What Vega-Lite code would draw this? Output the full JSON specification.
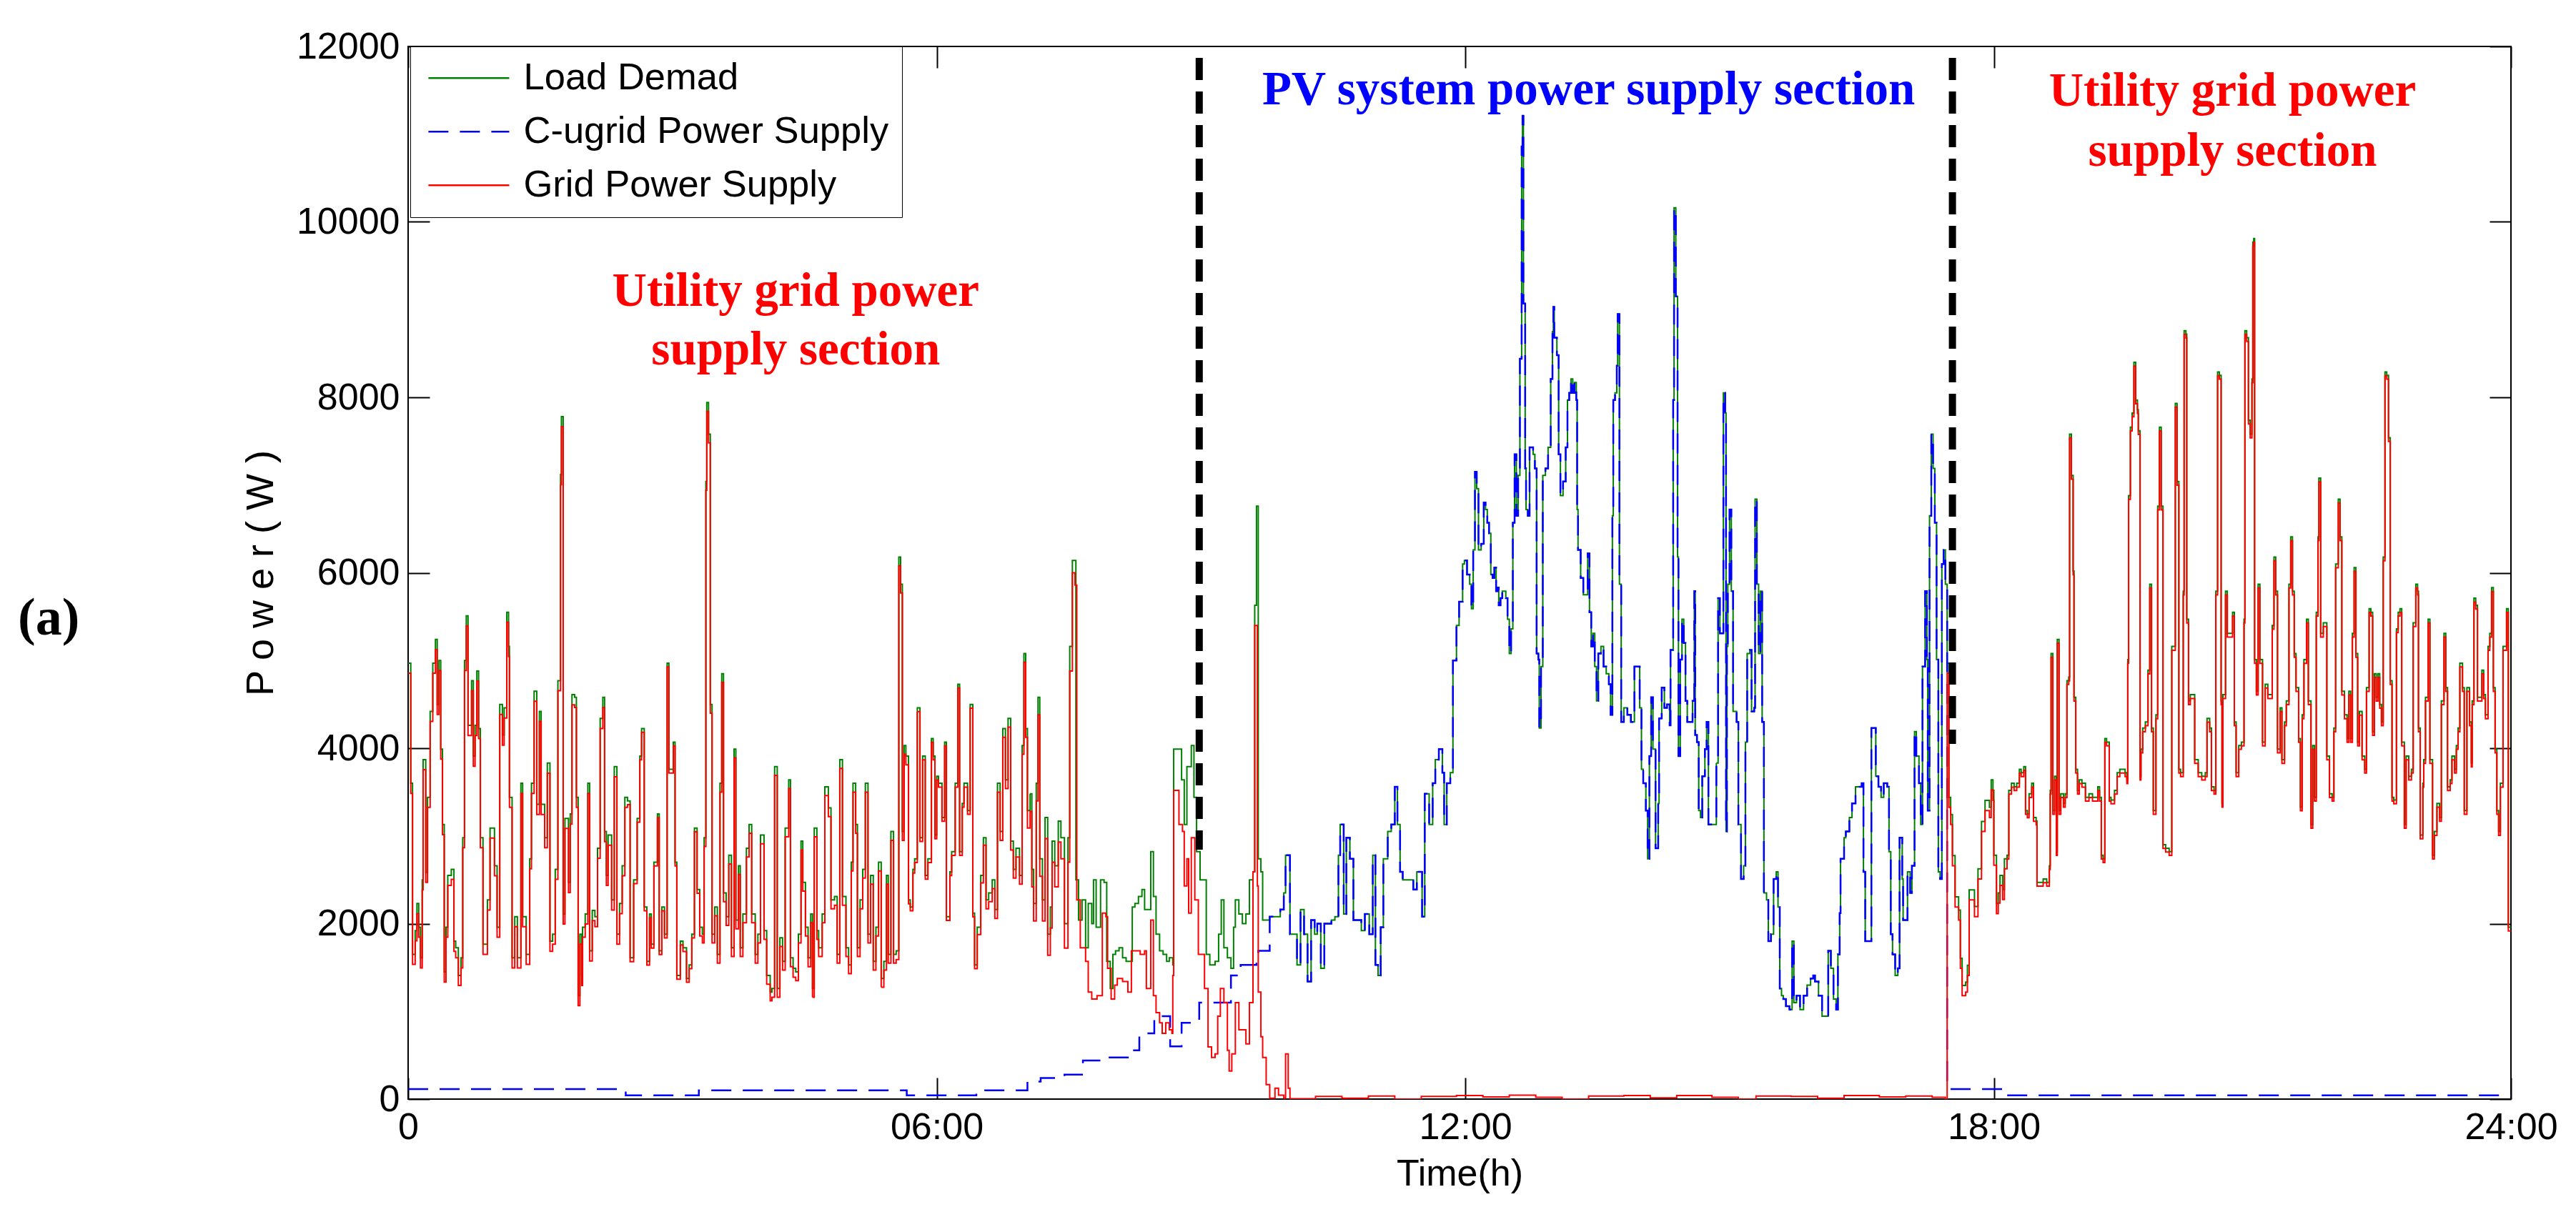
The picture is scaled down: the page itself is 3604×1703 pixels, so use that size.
{
"$schema": "https://vega.github.io/schema/vega-lite/v6.json",
"width": 2942, "height": 1473,
"autosize": {"type": "none"},
"padding": {"left": 571, "top": 65, "right": 91, "bottom": 165},
"background": "white",
"config": {"view": {"stroke": "black", "strokeWidth": 2}, "font": "Liberation Sans"},
"data": {"values": [
{"t":0,"C":115},{"t":2.47,"C":43},{"t":3.3,"C":100},{"t":5.66,"C":43},{"t":6.45,"C":85},{"t":6.55,"C":100},{"t":7.03,"C":200},{"t":7.18,"C":240},{"t":7.45,"C":280},{"t":7.66,"C":440},{"t":7.95,"C":475},{"t":8.2,"C":555},{"t":8.3,"C":750},{"t":8.47,"C":945},{"t":8.65,"C":600},{"t":8.78,"C":870},{"t":8.98,"C":1100},{"t":9.34,"C":1410},{"t":9.45,"C":1530},{"t":9.63,"C":1610},{"t":9.65,"C":1690},{"t":17.47,"C":200},{"t":17.49,"C":115},{"t":18.13,"C":43},{"t":23.87,"C":43},
{"t":0,"L":4970,"G":4855},{"t":0.03,"L":3600,"G":3485},{"t":0.05,"L":1650,"G":1535},{"t":0.08,"L":1920,"G":1805},{"t":0.1,"L":2230,"G":2115},{"t":0.12,"L":1960,"G":1845},{"t":0.14,"L":1610,"G":1495},{"t":0.16,"L":2500,"G":2385},{"t":0.17,"L":3870,"G":3755},{"t":0.2,"L":2585,"G":2470},{"t":0.22,"L":3440,"G":3325},{"t":0.25,"L":4420,"G":4305},{"t":0.28,"L":4970,"G":4855},{"t":0.31,"L":5240,"G":5125},{"t":0.33,"L":4500,"G":4385},{"t":0.35,"L":5000,"G":4885},{"t":0.37,"L":3990,"G":3875},{"t":0.39,"L":3130,"G":3015},{"t":0.41,"L":1450,"G":1335},{"t":0.43,"L":1960,"G":1845},{"t":0.45,"L":2550,"G":2435},{"t":0.49,"L":2620,"G":2505},{"t":0.52,"L":1800,"G":1685},{"t":0.54,"L":1725,"G":1610},{"t":0.57,"L":1410,"G":1295},{"t":0.6,"L":1610,"G":1495},{"t":0.62,"L":2980,"G":2865},{"t":0.64,"L":5000,"G":4885},{"t":0.66,"L":5510,"G":5395},{"t":0.68,"L":4260,"G":4145},{"t":0.72,"L":4770,"G":4655},{"t":0.74,"L":3910,"G":3795},{"t":0.76,"L":4260,"G":4145},{"t":0.78,"L":4880,"G":4765},{"t":0.8,"L":4225,"G":4110},{"t":0.82,"L":2980,"G":2865},{"t":0.85,"L":1765,"G":1650},{"t":0.9,"L":2270,"G":2155},{"t":0.93,"L":3090,"G":2975},{"t":0.98,"L":2660,"G":2545},{"t":1.01,"L":1960,"G":1845},{"t":1.04,"L":4500,"G":4385},{"t":1.07,"L":4150,"G":4035},{"t":1.09,"L":4460,"G":4345},{"t":1.12,"L":5550,"G":5435},{"t":1.14,"L":5160,"G":5045},{"t":1.15,"L":3440,"G":3325},{"t":1.18,"L":1610,"G":1495},{"t":1.21,"L":2080,"G":1965},{"t":1.24,"L":1610,"G":1495},{"t":1.28,"L":3600,"G":3485},{"t":1.3,"L":2080,"G":1965},{"t":1.34,"L":1650,"G":1535},{"t":1.38,"L":2740,"G":2625},{"t":1.4,"L":3600,"G":3485},{"t":1.43,"L":4650,"G":4535},{"t":1.46,"L":3360,"G":3245},{"t":1.49,"L":4420,"G":4305},{"t":1.51,"L":3360,"G":3245},{"t":1.55,"L":2980,"G":2865},{"t":1.58,"L":3830,"G":3715},{"t":1.61,"L":1800,"G":1685},{"t":1.64,"L":1880,"G":1765},{"t":1.67,"L":2620,"G":2505},{"t":1.7,"L":4770,"G":4655},{"t":1.73,"L":7120,"G":7005},{"t":1.74,"L":7780,"G":7665},{"t":1.76,"L":2110,"G":1995},{"t":1.78,"L":3200,"G":3085},{"t":1.82,"L":2470,"G":2355},{"t":1.84,"L":3250,"G":3135},{"t":1.86,"L":4610,"G":4495},{"t":1.89,"L":4580,"G":4465},{"t":1.91,"L":3440,"G":3325},{"t":1.93,"L":1180,"G":1065},{"t":1.95,"L":1880,"G":1765},{"t":1.97,"L":1410,"G":1295},{"t":1.98,"L":1960,"G":1845},{"t":2.01,"L":2110,"G":1995},{"t":2.04,"L":3600,"G":3485},{"t":2.06,"L":1690,"G":1575},{"t":2.09,"L":2150,"G":2035},{"t":2.12,"L":2080,"G":1965},{"t":2.15,"L":2860,"G":2745},{"t":2.18,"L":4340,"G":4225},{"t":2.21,"L":4580,"G":4465},{"t":2.23,"L":3050,"G":2935},{"t":2.25,"L":2550,"G":2435},{"t":2.27,"L":3010,"G":2895},{"t":2.31,"L":2270,"G":2155},{"t":2.34,"L":3790,"G":3675},{"t":2.37,"L":1880,"G":1765},{"t":2.4,"L":2230,"G":2115},{"t":2.43,"L":2660,"G":2545},{"t":2.46,"L":3440,"G":3325},
{"t":2.49,"L":3400,"G":3357},{"t":2.52,"L":1610,"G":1567},{"t":2.56,"L":2500,"G":2457},{"t":2.6,"L":3200,"G":3157},{"t":2.63,"L":3910,"G":3867},{"t":2.65,"L":4225,"G":4182},{"t":2.68,"L":2190,"G":2147},{"t":2.71,"L":1570,"G":1527},{"t":2.74,"L":2110,"G":2067},{"t":2.76,"L":1765,"G":1722},{"t":2.79,"L":2700,"G":2657},{"t":2.83,"L":3250,"G":3207},{"t":2.85,"L":1690,"G":1647},{"t":2.88,"L":2190,"G":2147},{"t":2.91,"L":1880,"G":1837},{"t":2.94,"L":4970,"G":4927},{"t":2.96,"L":3760,"G":3717},{"t":3.01,"L":4070,"G":4027},{"t":3.03,"L":2700,"G":2657},{"t":3.05,"L":1410,"G":1367},{"t":3.09,"L":1800,"G":1757},{"t":3.12,"L":1725,"G":1682},{"t":3.16,"L":1375,"G":1332},{"t":3.19,"L":1530,"G":1487},{"t":3.22,"L":1880,"G":1837},{"t":3.25,"L":3090,"G":3047},{"t":3.28,"L":2390,"G":2347},
{"t":3.31,"L":1960,"G":1860},{"t":3.34,"L":1880,"G":1780},{"t":3.36,"L":2980,"G":2880},{"t":3.38,"L":7040,"G":6940},{"t":3.39,"L":7940,"G":7840},{"t":3.41,"L":7580,"G":7480},{"t":3.43,"L":4500,"G":4400},{"t":3.45,"L":1880,"G":1780},{"t":3.48,"L":2190,"G":2090},{"t":3.51,"L":1650,"G":1550},{"t":3.54,"L":3600,"G":3500},{"t":3.56,"L":4850,"G":4750},{"t":3.58,"L":2350,"G":2250},{"t":3.61,"L":2080,"G":1980},{"t":3.64,"L":2780,"G":2680},{"t":3.67,"L":1725,"G":1625},{"t":3.7,"L":3990,"G":3890},{"t":3.72,"L":2040,"G":1940},{"t":3.75,"L":2660,"G":2560},{"t":3.77,"L":1725,"G":1625},{"t":3.8,"L":2110,"G":2010},{"t":3.84,"L":2860,"G":2760},{"t":3.87,"L":3130,"G":3030},{"t":3.9,"L":2110,"G":2010},{"t":3.94,"L":1650,"G":1550},{"t":3.97,"L":1880,"G":1780},{"t":4.0,"L":3010,"G":2910},{"t":4.04,"L":1920,"G":1820},{"t":4.07,"L":1410,"G":1310},{"t":4.11,"L":1220,"G":1120},{"t":4.13,"L":1260,"G":1160},{"t":4.16,"L":3790,"G":3690},{"t":4.19,"L":1260,"G":1160},{"t":4.22,"L":1840,"G":1740},{"t":4.25,"L":1570,"G":1470},{"t":4.28,"L":3090,"G":2990},{"t":4.32,"L":3640,"G":3540},{"t":4.34,"L":1610,"G":1510},{"t":4.37,"L":1490,"G":1390},{"t":4.4,"L":1450,"G":1350},{"t":4.43,"L":1880,"G":1780},{"t":4.46,"L":2940,"G":2840},{"t":4.48,"L":2470,"G":2370},{"t":4.51,"L":1960,"G":1860},{"t":4.54,"L":1610,"G":1510},{"t":4.57,"L":2110,"G":2010},{"t":4.59,"L":1260,"G":1160},{"t":4.61,"L":3090,"G":2990},{"t":4.64,"L":1920,"G":1820},{"t":4.66,"L":1725,"G":1625},{"t":4.7,"L":2110,"G":2010},{"t":4.73,"L":3560,"G":3460},{"t":4.77,"L":3320,"G":3220},{"t":4.8,"L":2270,"G":2170},{"t":4.84,"L":2310,"G":2210},{"t":4.87,"L":1650,"G":1550},{"t":4.9,"L":3870,"G":3770},{"t":4.93,"L":2310,"G":2210},{"t":4.97,"L":1725,"G":1625},{"t":5.0,"L":1530,"G":1430},{"t":5.03,"L":2700,"G":2600},{"t":5.05,"L":3600,"G":3500},{"t":5.08,"L":3130,"G":3030},{"t":5.1,"L":1725,"G":1625},{"t":5.13,"L":2270,"G":2170},{"t":5.16,"L":2620,"G":2520},{"t":5.19,"L":3600,"G":3500},{"t":5.22,"L":1880,"G":1780},{"t":5.25,"L":2550,"G":2450},{"t":5.28,"L":1570,"G":1470},{"t":5.31,"L":1960,"G":1860},{"t":5.34,"L":2700,"G":2600},{"t":5.37,"L":1375,"G":1275},{"t":5.4,"L":1570,"G":1470},{"t":5.43,"L":2550,"G":2450},{"t":5.45,"L":1650,"G":1550},{"t":5.48,"L":3050,"G":2950},{"t":5.51,"L":1650,"G":1550},{"t":5.54,"L":1690,"G":1590},{"t":5.57,"L":6180,"G":6080},{"t":5.59,"L":5870,"G":5770},{"t":5.61,"L":3050,"G":2950},{"t":5.63,"L":4030,"G":3930},{"t":5.65,"L":3910,"G":3810},
{"t":5.68,"L":2270,"G":2227},{"t":5.7,"L":2190,"G":2147},{"t":5.73,"L":2620,"G":2577},{"t":5.75,"L":2740,"G":2697},{"t":5.78,"L":4460,"G":4417},{"t":5.81,"L":2980,"G":2937},{"t":5.84,"L":3910,"G":3867},{"t":5.87,"L":2550,"G":2507},{"t":5.9,"L":2740,"G":2697},{"t":5.94,"L":4110,"G":4067},{"t":5.96,"L":3910,"G":3867},{"t":5.98,"L":3010,"G":2967},{"t":6.0,"L":3680,"G":3637},{"t":6.02,"L":3600,"G":3557},{"t":6.06,"L":3210,"G":3167},{"t":6.09,"L":4070,"G":4027},{"t":6.11,"L":2080,"G":2037},{"t":6.15,"L":2590,"G":2547},{"t":6.17,"L":2820,"G":2777},{"t":6.21,"L":3600,"G":3557},{"t":6.24,"L":4730,"G":4687},{"t":6.26,"L":2820,"G":2777},{"t":6.29,"L":3370,"G":3327},{"t":6.31,"L":3600,"G":3557},{"t":6.35,"L":3290,"G":3247},{"t":6.38,"L":4500,"G":4457},{"t":6.41,"L":2120,"G":2077},{"t":6.43,"L":1530,"G":1487},{"t":6.46,"L":1960,"G":1875},{"t":6.5,"L":2550,"G":2465},{"t":6.53,"L":2980,"G":2895},{"t":6.56,"L":2270,"G":2170},{"t":6.59,"L":2350,"G":2250},{"t":6.63,"L":2500,"G":2400},{"t":6.66,"L":2160,"G":2060},{"t":6.69,"L":3600,"G":3500},{"t":6.72,"L":3050,"G":2950},{"t":6.75,"L":4225,"G":4125},{"t":6.78,"L":3640,"G":3540},{"t":6.81,"L":4340,"G":4240},{"t":6.84,"L":2940,"G":2840},{"t":6.87,"L":2620,"G":2520},{"t":6.9,"L":2860,"G":2760},{"t":6.94,"L":2550,"G":2450},{"t":6.97,"L":4030,"G":3930},{"t":6.99,"L":5080,"G":4980},{"t":7.01,"L":4225,"G":4125},{"t":7.03,"L":3290,"G":3090},{"t":7.06,"L":3480,"G":3280},{"t":7.08,"L":2620,"G":2420},{"t":7.1,"L":2230,"G":2030},{"t":7.13,"L":3600,"G":3400},{"t":7.15,"L":4580,"G":4380},{"t":7.17,"L":2740,"G":2540},{"t":7.2,"L":2270,"G":2030},{"t":7.23,"L":3210,"G":2970},{"t":7.26,"L":1880,"G":1640},{"t":7.29,"L":2190,"G":1950},{"t":7.31,"L":2940,"G":2700},{"t":7.34,"L":2660,"G":2420},{"t":7.38,"L":3170,"G":2930},{"t":7.41,"L":2980,"G":2740},{"t":7.45,"L":2000,"G":1720},{"t":7.49,"L":2980,"G":2700},{"t":7.51,"L":5160,"G":4880},{"t":7.54,"L":6140,"G":6000},{"t":7.57,"L":6140,"G":5860},
{"t":7.58,"L":2500},{"t":7.61,"L":2040},{"t":7.65,"L":2270},{"t":7.69,"L":1725},{"t":7.72,"L":2230},{"t":7.76,"L":2000},{"t":7.78,"L":2500},{"t":7.81,"L":1960},{"t":7.86,"L":2500},{"t":7.9,"L":2470},{"t":7.93,"L":1570},{"t":7.97,"L":1260},{"t":8.0,"L":1650},{"t":8.03,"L":1690},{"t":8.07,"L":1725},{"t":8.11,"L":1610},{"t":8.15,"L":1570},{"t":8.19,"L":1570},{"t":8.22,"L":2190},{"t":8.25,"L":2230},{"t":8.29,"L":2310},{"t":8.33,"L":2390},{"t":8.36,"L":2160},{"t":8.43,"L":2820},{"t":8.46,"L":2310},{"t":8.49,"L":1880},{"t":8.53,"L":1690},{"t":8.57,"L":1650},{"t":8.61,"L":1570},{"t":8.64,"L":1610},{"t":8.68,"L":1530},{"t":8.69,"L":3990},{"t":8.78,"L":3640},{"t":8.81,"L":3130},{"t":8.84,"L":3790},{"t":8.89,"L":4030},{"t":8.92,"L":3440},{"t":8.95,"L":2820},{"t":8.99,"L":2500},{"t":9.06,"L":1650},{"t":9.1,"L":1530},{"t":9.16,"L":1570},{"t":9.2,"L":1880},{"t":9.23,"L":2270},{"t":9.26,"L":1725},{"t":9.3,"L":1610},{"t":9.34,"L":1490},{"t":9.37,"L":1960},{"t":9.39,"L":2270},{"t":9.43,"L":2110},{"t":9.47,"L":2000},{"t":9.51,"L":2110},{"t":9.55,"L":2500},{"t":9.59,"L":2590},{"t":9.61,"L":5630},{"t":9.63,"L":6760},{"t":9.65,"L":2740},{"t":9.68,"L":2590},{"t":9.7,"L":2040},
{"t":7.59,"G":2270},{"t":7.63,"G":1725},{"t":7.69,"G":1570},{"t":7.72,"G":1220},{"t":7.76,"G":1140},{"t":7.82,"G":1180},{"t":7.88,"G":2120},{"t":7.92,"G":2080},{"t":7.94,"G":1490},{"t":7.98,"G":1140},{"t":8.02,"G":1300},{"t":8.05,"G":1375},{"t":8.11,"G":1340},{"t":8.17,"G":1220},{"t":8.21,"G":1690},{"t":8.31,"G":1650},{"t":8.36,"G":1690},{"t":8.38,"G":1260},{"t":8.43,"G":2040},{"t":8.46,"G":1180},{"t":8.49,"G":985},{"t":8.53,"G":870},{"t":8.56,"G":750},{"t":8.6,"G":870},{"t":8.64,"G":790},{"t":8.67,"G":750},{"t":8.68,"G":1410},{"t":8.69,"G":3520},{"t":8.75,"G":3130},{"t":8.79,"G":3050},{"t":8.81,"G":2430},{"t":8.84,"G":2740},{"t":8.86,"G":2120},{"t":8.89,"G":2980},{"t":8.93,"G":2270},{"t":8.97,"G":1650},{"t":9.04,"G":1260},{"t":9.08,"G":595},{"t":9.12,"G":475},{"t":9.16,"G":515},{"t":9.19,"G":945},{"t":9.22,"G":1260},{"t":9.26,"G":1100},{"t":9.3,"G":555},{"t":9.32,"G":320},{"t":9.35,"G":515},{"t":9.39,"G":1100},{"t":9.43,"G":790},{"t":9.51,"G":630},{"t":9.55,"G":1100},{"t":9.59,"G":2590},{"t":9.61,"G":5400},{"t":9.64,"G":2430},{"t":9.65,"G":1220},{"t":9.68,"G":710},{"t":9.7,"G":475},{"t":9.74,"G":165},{"t":9.78,"G":10},{"t":9.84,"G":125},{"t":9.88,"G":45},{"t":9.94,"G":10},{"t":9.96,"G":515},{"t":9.99,"G":125},{"t":10.01,"G":5},{"t":10.3,"G":30},{"t":10.6,"G":10},{"t":10.9,"G":35},{"t":11.2,"G":0},{"t":11.5,"G":30},{"t":11.9,"G":40},{"t":12.2,"G":25},{"t":12.5,"G":45},{"t":12.8,"G":20},{"t":13.1,"G":0},{"t":13.4,"G":35},{"t":13.8,"G":40},{"t":14.1,"G":15},{"t":14.4,"G":40},{"t":14.8,"G":20},{"t":15.1,"G":0},{"t":15.3,"G":35},{"t":15.7,"G":30},{"t":16.0,"G":10},{"t":16.3,"G":40},{"t":16.7,"G":25},{"t":17.0,"G":35},{"t":17.3,"G":20},{"t":17.45,"G":0},
{"t":9.78,"L":2080,"C":2080},{"t":9.86,"L":2080,"C":2080},{"t":9.9,"L":2160,"C":2160},{"t":9.94,"L":2350,"C":2350},{"t":9.96,"L":2780,"C":2780},{"t":10.01,"L":1880,"C":1880},{"t":10.09,"L":1530,"C":1530},{"t":10.13,"L":2160,"C":2160},{"t":10.17,"L":1880,"C":1880},{"t":10.21,"L":1340,"C":1340},{"t":10.25,"L":2040,"C":2040},{"t":10.29,"L":1880,"C":1880},{"t":10.32,"L":2000,"C":2000},{"t":10.36,"L":1490,"C":1490},{"t":10.4,"L":2000,"C":2000},{"t":10.48,"L":2040,"C":2040},{"t":10.52,"L":2080,"C":2080},{"t":10.56,"L":2780,"C":2780},{"t":10.58,"L":3130,"C":3130},{"t":10.62,"L":2110,"C":2110},{"t":10.65,"L":2980,"C":2980},{"t":10.69,"L":2740,"C":2740},{"t":10.73,"L":2040,"C":2040},{"t":10.82,"L":1920,"C":1920},{"t":10.86,"L":2110,"C":2110},{"t":10.91,"L":1880,"C":1880},{"t":10.95,"L":2780,"C":2780},{"t":10.98,"L":1530,"C":1530},{"t":11.01,"L":1410,"C":1410},{"t":11.04,"L":1960,"C":1960},{"t":11.07,"L":2740,"C":2740},{"t":11.12,"L":3050,"C":3050},{"t":11.16,"L":3130,"C":3130},{"t":11.2,"L":3560,"C":3560},{"t":11.23,"L":3130,"C":3130},{"t":11.26,"L":2590,"C":2590},{"t":11.29,"L":2500,"C":2500},{"t":11.37,"L":2500,"C":2500},{"t":11.41,"L":2390,"C":2390},{"t":11.45,"L":2590,"C":2590},{"t":11.51,"L":2080,"C":2080},{"t":11.54,"L":3480,"C":3480},{"t":11.59,"L":3130,"C":3130},{"t":11.63,"L":3600,"C":3600},{"t":11.66,"L":3870,"C":3870},{"t":11.7,"L":3990,"C":3990},{"t":11.74,"L":3720,"C":3720},{"t":11.76,"L":3130,"C":3130},{"t":11.79,"L":3600,"C":3600},{"t":11.83,"L":3720,"C":3720},{"t":11.86,"L":5000,"C":5000},{"t":11.9,"L":5400,"C":5400},{"t":11.93,"L":5670,"C":5670},{"t":11.97,"L":6100,"C":6100},{"t":11.99,"L":6140,"C":6140},{"t":12.02,"L":5980,"C":5980},{"t":12.05,"L":5870,"C":5870},{"t":12.07,"L":5590,"C":5590},{"t":12.09,"L":6260,"C":6260},{"t":12.11,"L":7150,"C":7150},{"t":12.13,"L":6960,"C":6960},{"t":12.15,"L":6260,"C":6260},{"t":12.18,"L":6330,"C":6330},{"t":12.21,"L":6800,"C":6800},{"t":12.23,"L":6720,"C":6720},{"t":12.25,"L":6570,"C":6570},{"t":12.27,"L":6450,"C":6450},{"t":12.29,"L":5980,"C":5980},{"t":12.31,"L":5940,"C":5940},{"t":12.33,"L":6060,"C":6060},{"t":12.35,"L":5790,"C":5790},{"t":12.37,"L":5830,"C":5830},{"t":12.38,"L":5630,"C":5630},{"t":12.4,"L":5710,"C":5710},{"t":12.42,"L":5790,"C":5790},{"t":12.46,"L":5710,"C":5710},{"t":12.48,"L":5470,"C":5470},{"t":12.5,"L":5080,"C":5080},{"t":12.52,"L":5360,"C":5360},{"t":12.54,"L":6570,"C":6570},{"t":12.56,"L":7350,"C":7350},{"t":12.58,"L":6650,"C":6650},{"t":12.6,"L":7110,"C":7110},{"t":12.62,"L":8440,"C":8440},{"t":12.64,"L":10860,"C":10860},{"t":12.65,"L":11210,"C":11210},{"t":12.66,"L":9070,"C":9070},{"t":12.68,"L":7190,"C":7190},{"t":12.69,"L":6720,"C":6720},{"t":12.71,"L":6650,"C":6650},{"t":12.73,"L":7430,"C":7430},{"t":12.77,"L":7350,"C":7350},{"t":12.79,"L":7190,"C":7190},{"t":12.81,"L":5080,"C":5080},{"t":12.83,"L":5010,"C":5010},{"t":12.84,"L":4230,"C":4230},{"t":12.86,"L":4930,"C":4930},{"t":12.88,"L":7110,"C":7110},{"t":12.91,"L":7190,"C":7190},{"t":12.94,"L":7430,"C":7430},{"t":12.97,"L":8210,"C":8210},{"t":12.99,"L":8750,"C":8750},{"t":13.0,"L":9030,"C":9030},{"t":13.01,"L":8680,"C":8680},{"t":13.04,"L":8480,"C":8480},{"t":13.06,"L":7350,"C":7350},{"t":13.08,"L":6880,"C":6880},{"t":13.11,"L":7040,"C":7040},{"t":13.14,"L":7430,"C":7430},{"t":13.16,"L":7970,"C":7970},{"t":13.18,"L":8050,"C":8050},{"t":13.2,"L":8210,"C":8210},{"t":13.22,"L":8050,"C":8050},{"t":13.24,"L":8170,"C":8170},{"t":13.26,"L":7970,"C":7970},{"t":13.27,"L":6720,"C":6720},{"t":13.28,"L":6260,"C":6260},{"t":13.31,"L":5940,"C":5940},{"t":13.34,"L":5750,"C":5750},{"t":13.37,"L":5750,"C":5750},{"t":13.39,"L":6220,"C":6220},{"t":13.41,"L":5550,"C":5550},{"t":13.43,"L":5160,"C":5160},{"t":13.45,"L":5310,"C":5310},{"t":13.47,"L":4930,"C":4930},{"t":13.49,"L":4540,"C":4540},{"t":13.51,"L":5080,"C":5080},{"t":13.54,"L":5160,"C":5160},{"t":13.57,"L":4930,"C":4930},{"t":13.6,"L":4850,"C":4850},{"t":13.63,"L":4730,"C":4730},{"t":13.65,"L":4380,"C":4380},{"t":13.67,"L":6650,"C":6650},{"t":13.68,"L":7970,"C":7970},{"t":13.7,"L":8050,"C":8050},{"t":13.72,"L":8360,"C":8360},{"t":13.73,"L":8950,"C":8950},{"t":13.75,"L":5870,"C":5870},{"t":13.77,"L":4300,"C":4300},{"t":13.8,"L":4460,"C":4460},{"t":13.84,"L":4380,"C":4380},{"t":13.88,"L":4300,"C":4300},{"t":13.92,"L":4930,"C":4930},{"t":13.96,"L":4930,"C":4930},{"t":13.98,"L":4460,"C":4460},{"t":14.0,"L":3760,"C":3760},{"t":14.02,"L":3600,"C":3600},{"t":14.05,"L":3290,"C":3290},{"t":14.07,"L":2740,"C":2740},{"t":14.09,"L":3910,"C":3910},{"t":14.11,"L":4580,"C":4580},{"t":14.13,"L":3990,"C":3990},{"t":14.16,"L":2860,"C":2860},{"t":14.19,"L":3370,"C":3370},{"t":14.2,"L":4340,"C":4340},{"t":14.23,"L":4690,"C":4690},{"t":14.26,"L":4460,"C":4460},{"t":14.29,"L":4500,"C":4500},{"t":14.32,"L":4260,"C":4260},{"t":14.33,"L":5120,"C":5120},{"t":14.36,"L":7970,"C":7970},{"t":14.37,"L":10160,"C":10160},{"t":14.39,"L":9150,"C":9150},{"t":14.41,"L":6180,"C":6180},{"t":14.42,"L":3910,"C":3910},{"t":14.44,"L":5010,"C":5010},{"t":14.46,"L":5470,"C":5470},{"t":14.48,"L":5200,"C":5200},{"t":14.5,"L":4540,"C":4540},{"t":14.52,"L":4300,"C":4300},{"t":14.58,"L":4540,"C":4540},{"t":14.6,"L":5790,"C":5790},{"t":14.61,"L":4150,"C":4150},{"t":14.63,"L":4070,"C":4070},{"t":14.65,"L":3290,"C":3290},{"t":14.67,"L":3210,"C":3210},{"t":14.69,"L":3680,"C":3680},{"t":14.72,"L":3990,"C":3990},{"t":14.74,"L":4300,"C":4300},{"t":14.76,"L":3130,"C":3130},{"t":14.83,"L":3130,"C":3130},{"t":14.85,"L":3830,"C":3830},{"t":14.87,"L":5710,"C":5710},{"t":14.89,"L":5310,"C":5310},{"t":14.91,"L":5310,"C":5310},{"t":14.93,"L":8050,"C":8050},{"t":14.95,"L":7820,"C":7820},{"t":14.96,"L":3050,"C":3050},{"t":14.97,"L":5160,"C":5160},{"t":14.98,"L":5870,"C":5870},{"t":15.0,"L":6720,"C":6720},{"t":15.02,"L":5790,"C":5790},{"t":15.04,"L":4420,"C":4420},{"t":15.08,"L":4300,"C":4300},{"t":15.1,"L":3130,"C":3130},{"t":15.13,"L":2510,"C":2510},{"t":15.16,"L":2660,"C":2660},{"t":15.18,"L":4070,"C":4070},{"t":15.2,"L":5080,"C":5080},{"t":15.23,"L":5120,"C":5120},{"t":15.25,"L":4420,"C":4420},{"t":15.28,"L":4460,"C":4460},{"t":15.29,"L":6840,"C":6840},{"t":15.31,"L":5870,"C":5870},{"t":15.33,"L":5080,"C":5080},{"t":15.35,"L":5790,"C":5790},{"t":15.37,"L":4300,"C":4300},{"t":15.39,"L":2350,"C":2350},{"t":15.42,"L":2270,"C":2270},{"t":15.44,"L":1800,"C":1800},{"t":15.47,"L":1880,"C":1880},{"t":15.5,"L":2510,"C":2510},{"t":15.53,"L":2590,"C":2590},{"t":15.55,"L":2190,"C":2190},{"t":15.57,"L":1260,"C":1260},{"t":15.59,"L":1180,"C":1180},{"t":15.61,"L":1140,"C":1140},{"t":15.64,"L":1060,"C":1060},{"t":15.68,"L":1020,"C":1020},{"t":15.71,"L":1800,"C":1800},{"t":15.73,"L":1100,"C":1100},{"t":15.76,"L":1180,"C":1180},{"t":15.8,"L":1020,"C":1020},{"t":15.84,"L":1180,"C":1180},{"t":15.88,"L":1300,"C":1300},{"t":15.92,"L":1375,"C":1375},{"t":15.95,"L":1410,"C":1410},{"t":15.97,"L":1340,"C":1340},{"t":16.01,"L":1180,"C":1180},{"t":16.05,"L":945,"C":945},{"t":16.09,"L":945,"C":945},{"t":16.12,"L":1690,"C":1690},{"t":16.15,"L":1490,"C":1490},{"t":16.18,"L":1140,"C":1140},{"t":16.21,"L":1020,"C":1020},{"t":16.23,"L":1650,"C":1650},{"t":16.25,"L":2120,"C":2120},{"t":16.26,"L":2740,"C":2740},{"t":16.3,"L":2980,"C":2980},{"t":16.32,"L":3050,"C":3050},{"t":16.36,"L":3210,"C":3210},{"t":16.39,"L":3370,"C":3370},{"t":16.43,"L":3560,"C":3560},{"t":16.5,"L":3600,"C":3600},{"t":16.52,"L":2590,"C":2590},{"t":16.54,"L":1800,"C":1800},{"t":16.58,"L":1800,"C":1800},{"t":16.61,"L":4230,"C":4230},{"t":16.65,"L":4230,"C":4230},{"t":16.66,"L":3680,"C":3680},{"t":16.69,"L":3560,"C":3560},{"t":16.72,"L":3440,"C":3440},{"t":16.75,"L":3600,"C":3600},{"t":16.79,"L":3560,"C":3560},{"t":16.81,"L":2820,"C":2820},{"t":16.83,"L":1880,"C":1880},{"t":16.85,"L":1650,"C":1650},{"t":16.88,"L":1410,"C":1410},{"t":16.91,"L":1490,"C":1490},{"t":16.93,"L":2980,"C":2980},{"t":16.96,"L":2510,"C":2510},{"t":16.97,"L":2040,"C":2040},{"t":17.0,"L":2040,"C":2040},{"t":17.02,"L":2590,"C":2590},{"t":17.05,"L":2350,"C":2350},{"t":17.07,"L":2660,"C":2660},{"t":17.1,"L":4190,"C":4190},{"t":17.12,"L":3910,"C":3910},{"t":17.15,"L":3600,"C":3600},{"t":17.17,"L":3130,"C":3130},{"t":17.19,"L":4930,"C":4930},{"t":17.22,"L":5790,"C":5790},{"t":17.24,"L":5010,"C":5010},{"t":17.25,"L":3290,"C":3290},{"t":17.27,"L":6650,"C":6650},{"t":17.29,"L":7580,"C":7580},{"t":17.31,"L":7190,"C":7190},{"t":17.33,"L":6570,"C":6570},{"t":17.35,"L":5010,"C":5010},{"t":17.37,"L":2590,"C":2590},{"t":17.39,"L":2510,"C":2510},{"t":17.41,"L":6100,"C":6100},{"t":17.43,"L":6260,"C":6260},{"t":17.45,"L":5870,"C":5870},
{"t":17.47,"L":4970,"G":4855},{"t":17.49,"L":3440,"G":3325},{"t":17.51,"L":3245,"G":3130},{"t":17.53,"L":2775,"G":2660},{"t":17.56,"L":2305,"G":2190},{"t":17.6,"L":2155,"G":2040},{"t":17.62,"L":1605,"G":1490},{"t":17.64,"L":1295,"G":1180},{"t":17.68,"L":1335,"G":1220},{"t":17.7,"L":1525,"G":1410},{"t":17.72,"L":2385,"G":2270},{"t":17.78,"L":2195,"G":2080},{"t":17.82,"L":2625,"G":2510},{"t":17.86,"L":3165,"G":3050},{"t":17.9,"L":3405,"G":3290},{"t":17.95,"L":3325,"G":3210},{"t":17.97,"L":3640,"G":3525},{"t":17.99,"L":3520,"G":3405},{"t":18.0,"L":2780,"G":2665},{"t":18.03,"L":2230,"G":2115},{"t":18.05,"L":2350,"G":2235},{"t":18.07,"L":2550,"G":2435},{"t":18.1,"L":2390,"G":2275},{"t":18.12,"L":2740,"G":2625},
{"t":18.15,"L":2780,"G":2737},{"t":18.17,"L":3520,"G":3477},{"t":18.2,"L":3600,"G":3557},{"t":18.23,"L":3560,"G":3517},{"t":18.26,"L":3600,"G":3557},{"t":18.29,"L":3760,"G":3717},{"t":18.31,"L":3720,"G":3677},{"t":18.34,"L":3790,"G":3747},{"t":18.36,"L":3290,"G":3247},{"t":18.38,"L":3250,"G":3207},{"t":18.4,"L":3480,"G":3437},{"t":18.43,"L":3600,"G":3557},{"t":18.45,"L":3210,"G":3167},{"t":18.48,"L":3170,"G":3127},{"t":18.49,"L":2470,"G":2427},{"t":18.56,"L":2510,"G":2467},{"t":18.6,"L":2470,"G":2427},{"t":18.63,"L":2660,"G":2617},{"t":18.64,"L":3520,"G":3477},{"t":18.65,"L":5080,"G":5037},{"t":18.67,"L":3290,"G":3247},{"t":18.69,"L":3680,"G":3637},{"t":18.71,"L":2820,"G":2777},{"t":18.72,"L":5240,"G":5197},{"t":18.74,"L":3290,"G":3247},{"t":18.76,"L":3480,"G":3437},{"t":18.79,"L":3370,"G":3327},{"t":18.81,"L":3480,"G":3437},{"t":18.83,"L":4770,"G":4727},{"t":18.85,"L":4810,"G":4767},{"t":18.86,"L":7580,"G":7537},{"t":18.88,"L":7110,"G":7067},{"t":18.9,"L":6020,"G":5977},{"t":18.91,"L":4580,"G":4537},{"t":18.93,"L":3760,"G":3717},{"t":18.95,"L":3520,"G":3477},{"t":18.97,"L":3640,"G":3597},{"t":19.0,"L":3600,"G":3557},{"t":19.04,"L":3440,"G":3397},{"t":19.08,"L":3480,"G":3437},{"t":19.12,"L":3440,"G":3397},{"t":19.18,"L":3560,"G":3517},{"t":19.2,"L":3440,"G":3397},{"t":19.22,"L":2780,"G":2737},{"t":19.24,"L":2740,"G":2697},{"t":19.26,"L":4110,"G":4067},{"t":19.28,"L":4070,"G":4027},{"t":19.31,"L":3440,"G":3397},{"t":19.33,"L":3410,"G":3367},{"t":19.37,"L":3520,"G":3477},{"t":19.4,"L":3720,"G":3677},{"t":19.43,"L":3760,"G":3717},{"t":19.49,"L":3720,"G":3677},{"t":19.51,"L":3640,"G":3597},{"t":19.52,"L":5010,"G":4967},{"t":19.53,"L":6880,"G":6837},{"t":19.55,"L":7660,"G":7617},{"t":19.57,"L":7820,"G":7777},{"t":19.59,"L":8400,"G":8357},{"t":19.61,"L":7970,"G":7927},{"t":19.63,"L":7860,"G":7817},{"t":19.64,"L":7620,"G":7577},{"t":19.66,"L":3680,"G":3637},{"t":19.67,"L":3990,"G":3947},{"t":19.69,"L":4230,"G":4187},{"t":19.72,"L":4300,"G":4257},{"t":19.75,"L":4890,"G":4847},{"t":19.77,"L":5870,"G":5827},{"t":19.79,"L":4230,"G":4187},{"t":19.81,"L":3290,"G":3247},{"t":19.84,"L":4380,"G":4337},{"t":19.86,"L":6760,"G":6717},{"t":19.88,"L":7660,"G":7617},{"t":19.9,"L":6760,"G":6717},{"t":19.92,"L":2900,"G":2857},{"t":19.95,"L":2860,"G":2817},{"t":19.99,"L":2820,"G":2777},{"t":20.02,"L":5160,"G":5117},{"t":20.04,"L":5160,"G":5117},{"t":20.06,"L":7930,"G":7887},{"t":20.08,"L":7040,"G":6997},{"t":20.1,"L":3760,"G":3717},{"t":20.12,"L":3720,"G":3677},{"t":20.15,"L":5790,"G":5747},{"t":20.16,"L":8760,"G":8717},{"t":20.18,"L":8720,"G":8677},{"t":20.19,"L":5470,"G":5427},{"t":20.21,"L":4540,"G":4497},{"t":20.23,"L":4610,"G":4567},{"t":20.27,"L":4610,"G":4567},{"t":20.28,"L":3870,"G":3827},{"t":20.32,"L":3720,"G":3677},{"t":20.36,"L":3680,"G":3637},{"t":20.4,"L":3720,"G":3677},{"t":20.42,"L":4340,"G":4297},{"t":20.45,"L":4230,"G":4187},{"t":20.47,"L":3560,"G":3517},{"t":20.5,"L":3520,"G":3477},{"t":20.52,"L":5790,"G":5747},{"t":20.54,"L":8290,"G":8247},{"t":20.56,"L":8250,"G":8207},{"t":20.58,"L":4540,"G":4497},{"t":20.59,"L":3370,"G":3327},{"t":20.6,"L":4610,"G":4567},{"t":20.63,"L":5790,"G":5747},{"t":20.65,"L":5310,"G":5267},{"t":20.69,"L":5310,"G":5267},{"t":20.71,"L":5550,"G":5507},{"t":20.73,"L":4300,"G":4257},{"t":20.75,"L":3720,"G":3677},{"t":20.78,"L":4030,"G":3987},{"t":20.81,"L":4070,"G":4027},{"t":20.84,"L":5470,"G":5427},{"t":20.85,"L":8760,"G":8717},{"t":20.87,"L":8680,"G":8637},{"t":20.89,"L":7740,"G":7697},{"t":20.91,"L":7580,"G":7537},{"t":20.93,"L":8210,"G":8167},{"t":20.94,"L":9770,"G":9727},{"t":20.95,"L":9810,"G":9767},{"t":20.96,"L":5010,"G":4967},{"t":20.98,"L":4650,"G":4607},{"t":21.0,"L":5870,"G":5827},{"t":21.02,"L":5010,"G":4967},{"t":21.05,"L":4070,"G":4027},{"t":21.08,"L":4730,"G":4687},{"t":21.11,"L":4610,"G":4567},{"t":21.14,"L":4610,"G":4567},{"t":21.16,"L":5400,"G":5357},{"t":21.18,"L":6180,"G":6137},{"t":21.2,"L":5790,"G":5747},{"t":21.22,"L":3990,"G":3947},{"t":21.25,"L":4460,"G":4417},{"t":21.27,"L":3870,"G":3827},{"t":21.3,"L":4300,"G":4257},{"t":21.32,"L":4540,"G":4497},{"t":21.35,"L":5870,"G":5827},{"t":21.37,"L":6410,"G":6367},{"t":21.39,"L":5790,"G":5747},{"t":21.41,"L":5080,"G":5037},{"t":21.43,"L":4690,"G":4647},{"t":21.46,"L":4110,"G":4067},{"t":21.48,"L":3330,"G":3287},{"t":21.5,"L":4380,"G":4337},{"t":21.52,"L":5010,"G":4967},{"t":21.55,"L":5470,"G":5427},{"t":21.57,"L":4540,"G":4497},{"t":21.6,"L":3130,"G":3087},{"t":21.62,"L":4030,"G":3987},{"t":21.64,"L":3440,"G":3397},{"t":21.66,"L":5550,"G":5507},{"t":21.68,"L":6410,"G":6367},{"t":21.69,"L":7080,"G":7037},{"t":21.71,"L":5310,"G":5267},{"t":21.74,"L":5430,"G":5387},{"t":21.76,"L":5430,"G":5387},{"t":21.78,"L":3910,"G":3867},{"t":21.81,"L":3480,"G":3437},{"t":21.84,"L":3440,"G":3397},{"t":21.86,"L":4230,"G":4187},{"t":21.88,"L":6100,"G":6057},{"t":21.91,"L":6840,"G":6797},{"t":21.93,"L":6410,"G":6367},{"t":21.95,"L":4650,"G":4607},{"t":21.98,"L":4380,"G":4337},{"t":22.01,"L":4110,"G":4067},{"t":22.03,"L":4650,"G":4607},{"t":22.05,"L":4110,"G":4067},{"t":22.07,"L":5310,"G":5267},{"t":22.09,"L":6060,"G":6017},{"t":22.11,"L":5080,"G":5037},{"t":22.13,"L":4070,"G":4027},{"t":22.15,"L":4420,"G":4377},{"t":22.18,"L":3910,"G":3867},{"t":22.21,"L":3760,"G":3717},{"t":22.23,"L":4690,"G":4647},{"t":22.26,"L":5590,"G":5547},{"t":22.28,"L":5550,"G":5507},{"t":22.3,"L":4190,"G":4147},{"t":22.32,"L":4850,"G":4807},{"t":22.34,"L":4580,"G":4537},{"t":22.36,"L":4850,"G":4807},{"t":22.38,"L":4500,"G":4457},{"t":22.4,"L":4300,"G":4257},{"t":22.42,"L":6180,"G":6137},{"t":22.44,"L":8290,"G":8247},{"t":22.46,"L":8250,"G":8207},{"t":22.48,"L":7540,"G":7497},{"t":22.5,"L":4770,"G":4727},{"t":22.52,"L":3440,"G":3397},{"t":22.54,"L":3410,"G":3367},{"t":22.57,"L":5360,"G":5317},{"t":22.59,"L":5550,"G":5507},{"t":22.61,"L":5590,"G":5547},{"t":22.63,"L":4070,"G":4027},{"t":22.66,"L":3130,"G":3087},{"t":22.68,"L":3910,"G":3867},{"t":22.71,"L":3680,"G":3637},{"t":22.74,"L":3760,"G":3717},{"t":22.76,"L":5430,"G":5387},{"t":22.79,"L":5870,"G":5827},{"t":22.81,"L":5790,"G":5747},{"t":22.82,"L":4230,"G":4187},{"t":22.84,"L":3010,"G":2967},{"t":22.87,"L":3600,"G":3557},{"t":22.88,"L":3870,"G":3827},{"t":22.9,"L":4580,"G":4537},{"t":22.93,"L":5470,"G":5427},{"t":22.95,"L":3870,"G":3827},{"t":22.98,"L":2780,"G":2737},{"t":23.0,"L":3050,"G":3007},{"t":23.03,"L":3370,"G":3327},{"t":23.06,"L":3210,"G":3167},{"t":23.08,"L":4540,"G":4497},{"t":23.11,"L":5310,"G":5267},{"t":23.13,"L":4690,"G":4647},{"t":23.15,"L":3560,"G":3517},{"t":23.18,"L":3640,"G":3597},{"t":23.2,"L":3910,"G":3867},{"t":23.23,"L":3760,"G":3717},{"t":23.25,"L":4030,"G":3987},{"t":23.27,"L":4230,"G":4187},{"t":23.29,"L":4970,"G":4927},{"t":23.32,"L":4690,"G":4647},{"t":23.34,"L":3290,"G":3247},{"t":23.37,"L":4690,"G":4647},{"t":23.4,"L":4300,"G":4257},{"t":23.42,"L":3830,"G":3787},{"t":23.43,"L":4540,"G":4497},{"t":23.45,"L":5710,"G":5667},{"t":23.47,"L":5630,"G":5587},{"t":23.49,"L":4580,"G":4537},{"t":23.54,"L":4890,"G":4847},{"t":23.56,"L":4610,"G":4567},{"t":23.58,"L":4380,"G":4337},{"t":23.61,"L":5160,"G":5117},{"t":23.63,"L":5310,"G":5267},{"t":23.65,"L":5830,"G":5787},{"t":23.67,"L":4690,"G":4647},{"t":23.69,"L":3990,"G":3947},{"t":23.71,"L":3290,"G":3247},{"t":23.73,"L":3050,"G":3007},{"t":23.75,"L":3600,"G":3557},{"t":23.78,"L":5160,"G":5117},{"t":23.82,"L":5590,"G":5547},{"t":23.84,"L":1960,"G":1917},{"t":23.87,"L":1960,"G":1917}
]},
"layer": [
{"transform": [{"fold": ["L"], "as": ["s", "v"]}, {"filter": "isValid(datum.v)"}],
 "mark": {"type": "line", "interpolate": "step-after", "strokeWidth": 2, "clip": true},
 "encoding": {
  "x": {"field": "t", "type": "quantitative", "scale": {"domain": [0, 23.87], "nice": false, "zero": false},
   "axis": {"title": "Time(h)", "values": [0, 6, 12, 18, 23.87], "labelExpr": "datum.value == 0 ? '0' : datum.value == 6 ? '06:00' : datum.value == 12 ? '12:00' : datum.value == 18 ? '18:00' : '24:00'", "tickSize": -30, "tickWidth": 2, "tickColor": "black", "labelPadding": 44, "labelFontSize": 52, "labelFont": "Liberation Sans", "labelColor": "black", "labelFlush": false, "labelOverlap": false, "titleFontSize": 52, "titleFont": "Liberation Sans", "titleFontWeight": "normal", "titleColor": "black", "titlePadding": 14, "domain": false, "grid": false}},
  "y": {"field": "v", "type": "quantitative", "scale": {"domain": [0, 12000], "nice": false},
   "axis": {"title": "P o w e r ( W )", "values": [0, 2000, 4000, 6000, 8000, 10000, 12000], "format": "d", "tickSize": -30, "tickWidth": 2, "tickColor": "black", "labelPadding": 42, "labelFontSize": 52, "labelFont": "Liberation Sans", "labelColor": "black", "labelFlush": false, "labelOverlap": false, "titleFontSize": 54, "titleFont": "Liberation Sans", "titleFontWeight": "normal", "titleColor": "black", "titlePadding": 22, "domain": false, "grid": false}},
  "color": {"field": "s", "type": "nominal", "scale": {"domain": ["L", "C", "G"], "range": ["#008000", "#0000ff", "#ff0000"]},
   "legend": {"title": null, "orient": "none", "legendX": 3, "legendY": 0, "symbolType": "M-1,0H5", "symbolSize": 1420, "symbolStrokeWidth": 2.5, "labelFont": "Liberation Sans", "labelFontSize": 52.5, "labelColor": "black", "labelOffset": 88, "labelLimit": 0, "rowPadding": 22, "padding": 18, "strokeColor": "black", "fillColor": "white", "labelExpr": "datum.label == 'L' ? 'Load Demad' : datum.label == 'C' ? 'C-ugrid Power Supply' : 'Grid Power Supply'"}},
  "strokeDash": {"field": "s", "type": "nominal", "scale": {"domain": ["L", "C", "G"], "range": [[1, 0], [28, 16], [1, 0]]},
   "legend": {"title": null, "orient": "none", "legendX": 3, "legendY": 0, "symbolType": "M-1,0H5", "symbolSize": 1420, "symbolStrokeWidth": 2.5, "labelFont": "Liberation Sans", "labelFontSize": 52.5, "labelColor": "black", "labelOffset": 88, "labelLimit": 0, "rowPadding": 22, "padding": 18, "strokeColor": "black", "fillColor": "white", "labelExpr": "datum.label == 'L' ? 'Load Demad' : datum.label == 'C' ? 'C-ugrid Power Supply' : 'Grid Power Supply'"}}
 }},
{"transform": [{"fold": ["C"], "as": ["s", "v"]}, {"filter": "isValid(datum.v)"}],
 "mark": {"type": "line", "interpolate": "step-after", "strokeWidth": 2.5, "clip": true},
 "encoding": {
  "x": {"field": "t", "type": "quantitative", "scale": {"domain": [0, 23.87]}, "axis": null},
  "y": {"field": "v", "type": "quantitative", "scale": {"domain": [0, 12000]}, "axis": null},
  "color": {"field": "s", "type": "nominal"},
  "strokeDash": {"field": "s", "type": "nominal"}
 }},
{"transform": [{"fold": ["G"], "as": ["s", "v"]}, {"filter": "isValid(datum.v)"}],
 "mark": {"type": "line", "interpolate": "step-after", "strokeWidth": 2, "clip": true},
 "encoding": {
  "x": {"field": "t", "type": "quantitative", "scale": {"domain": [0, 23.87]}, "axis": null},
  "y": {"field": "v", "type": "quantitative", "scale": {"domain": [0, 12000]}, "axis": null},
  "color": {"field": "s", "type": "nominal"},
  "strokeDash": {"field": "s", "type": "nominal"}
 }},
{"data": {"values": [{"t": 8.98, "lo": 2843, "hi": 12000}, {"t": 17.53, "lo": 4049, "hi": 12000}]},
 "mark": {"type": "rule", "color": "black", "strokeWidth": 10, "strokeDash": [31, 16], "strokeDashOffset": -16, "strokeCap": "butt"},
 "encoding": {
  "x": {"field": "t", "type": "quantitative", "scale": {"domain": [0, 23.87]}, "axis": null},
  "y": {"field": "hi", "type": "quantitative", "scale": {"domain": [0, 12000]}, "axis": null},
  "y2": {"field": "lo"}
 }},
{"data": {"values": [
  {"t": 4.40, "v": 9043, "label": "Utility grid power", "c": "#ff0000"},
  {"t": 4.40, "v": 8375, "label": "supply section", "c": "#ff0000"},
  {"t": 13.40, "v": 11340, "label": "PV system power supply section", "c": "#0000ff"},
  {"t": 20.71, "v": 11324, "label": "Utility grid power", "c": "#ff0000"},
  {"t": 20.71, "v": 10640, "label": "supply section", "c": "#ff0000"}]},
 "mark": {"type": "text", "font": "Liberation Serif", "fontWeight": "bold", "fontSize": 67, "align": "center", "baseline": "alphabetic"},
 "encoding": {
  "x": {"field": "t", "type": "quantitative", "scale": {"domain": [0, 23.87]},
   "axis": {"orient": "top", "labels": false, "title": null, "values": [0, 6, 12, 18, 23.87], "tickSize": -30, "tickWidth": 2, "tickColor": "black", "domain": false, "grid": false}},
  "y": {"field": "v", "type": "quantitative", "scale": {"domain": [0, 12000]},
   "axis": {"orient": "right", "labels": false, "title": null, "values": [0, 2000, 4000, 6000, 8000, 10000, 12000], "tickSize": -30, "tickWidth": 2, "tickColor": "black", "domain": false, "grid": false}},
  "text": {"field": "label"},
  "color": {"field": "c", "type": "nominal", "scale": null}
 }},
{"data": {"values": [{"t": -4.08, "v": 5295, "label": "(a)"}]},
 "mark": {"type": "text", "font": "Liberation Serif", "fontWeight": "bold", "fontSize": 74, "align": "center", "baseline": "alphabetic", "color": "black", "clip": false},
 "encoding": {
  "x": {"field": "t", "type": "quantitative", "scale": {"domain": [0, 23.87]}, "axis": null},
  "y": {"field": "v", "type": "quantitative", "scale": {"domain": [0, 12000]}, "axis": null},
  "text": {"field": "label"}
 }}
],
"resolve": {"axis": {"x": "independent", "y": "independent"}}
}
